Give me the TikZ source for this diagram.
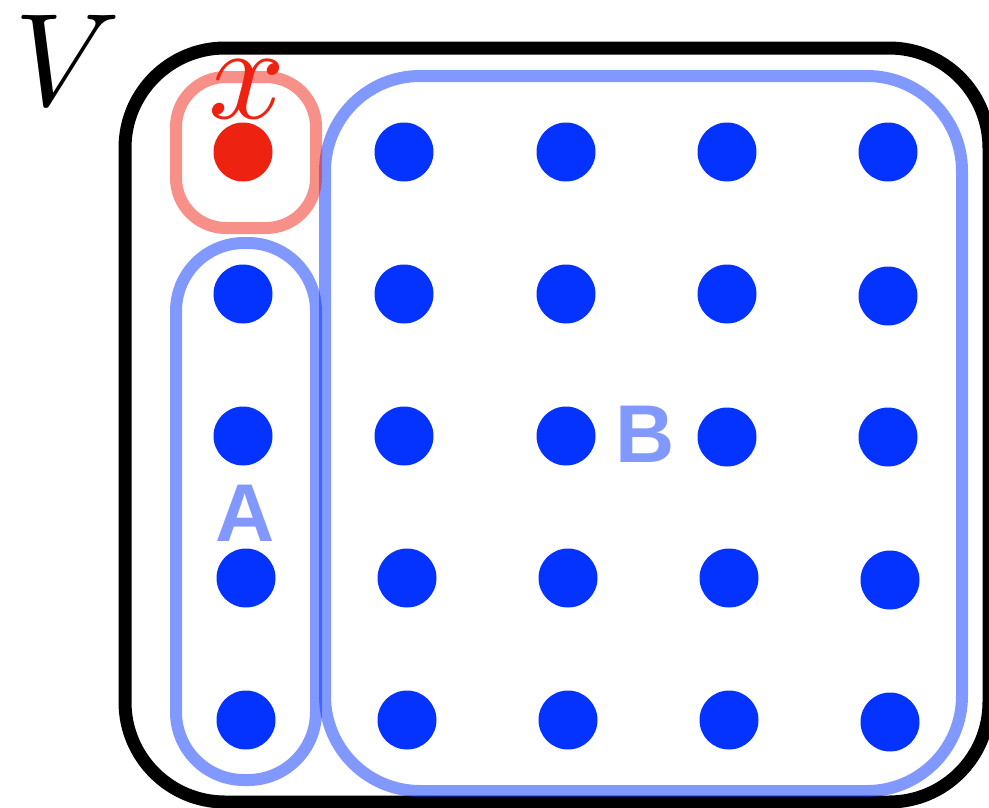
\documentclass[tikz,border=0pt]{standalone}
\usepackage{fontspec}
\newfontfamily\labelfont[BoldFont={Liberation Sans Bold}]{Liberation Sans}
\usetikzlibrary{positioning}
\definecolor{dotblue}{RGB}{4,51,255}
\definecolor{setblue}{RGB}{129,153,255}
\definecolor{xred}{RGB}{238,34,17}

\begin{document}
\begin{tikzpicture}[x=1pt,y=-1pt,
every node/.style={inner sep=0pt},
dot/.style={circle,fill=dotblue,minimum size=59pt},
set/.style={line width=12pt,draw opacity=.5}]
\useasboundingbox (0,0) rectangle (989,807);
% the whole set V
\draw[line width=13pt,rounded corners=100pt] (125,48) rectangle (989,802);
\node[scale=13.2] (V) at (68,60) {$V$};
% the subsets
\draw[set,dotblue,rounded corners=68pt] (176,243) rectangle (316,780);
\draw[set,dotblue,rounded corners=95pt] (325,76) rectangle (962,791);
\draw[set,xred,rounded corners=50pt] (176,77) rectangle (316,228);
% the points
\node[dot,fill=xred] (X) at (243,152) {};
\node[dot] (D12) at (404,152) {};
\node[dot] (D13) at (566,152) {};
\node[dot] (D14) at (727,152) {};
\node[dot] (D15) at (888,152) {};
\node[dot] (D21) at (243,294) {};
\node[dot] (D22) at (404,294) {};
\node[dot] (D23) at (566,294) {};
\node[dot] (D24) at (727,294) {};
\node[dot] (D25) at (888,296) {};
\node[dot] (D31) at (243,436) {};
\node[dot] (D32) at (404,436) {};
\node[dot] (D33) at (566,436) {};
\node[dot] (D34) at (727,437) {};
\node[dot] (D35) at (888,437) {};
\node[dot] (D41) at (246,578) {};
\node[dot] (D42) at (407,578) {};
\node[dot] (D43) at (568,578) {};
\node[dot] (D44) at (729,578) {};
\node[dot] (D45) at (890,580) {};
\node[dot] (D51) at (246,720) {};
\node[dot] (D52) at (407,720) {};
\node[dot] (D53) at (568,720) {};
\node[dot] (D54) at (729,720) {};
\node[dot] (D55) at (890,722) {};
% labels
\node[xred,scale=13.5] (Xlab) at (247,89) {$x$};
\node[setblue,font=\labelfont\bfseries\fontsize{82}{82}\selectfont] (Alab) at (245,513) {A};
\node[setblue,font=\labelfont\bfseries\fontsize{82}{82}\selectfont] (Blab) at (645,434) {B};
\end{tikzpicture}
\end{document}
